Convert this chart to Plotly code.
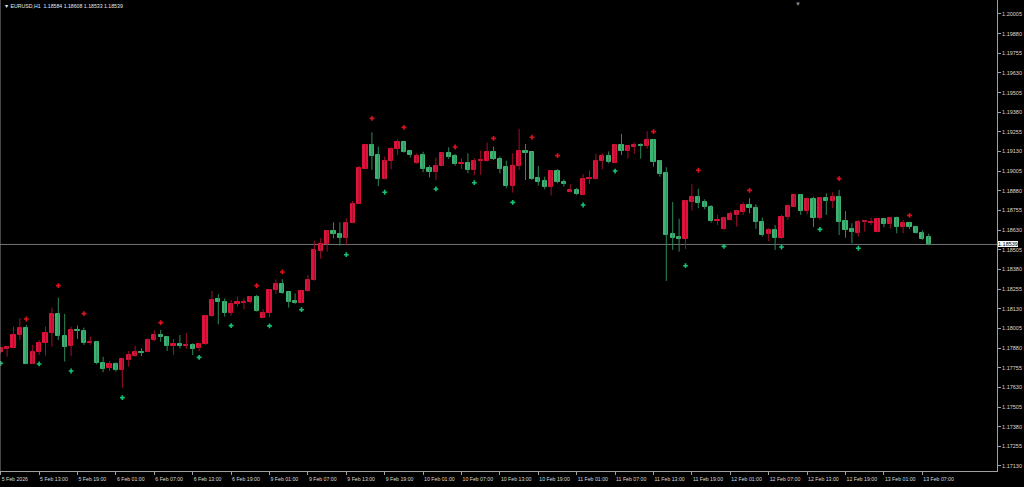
import plotly.graph_objects as go

symbol = "EURUSD,H1"

opens = [1.17853, 1.17876, 1.17881, 1.17961, 1.18008, 1.17781, 1.17855, 1.17912, 1.17976, 1.18097,
         1.17959, 1.17893, 1.17997, 1.17989, 1.17910, 1.17919, 1.17785, 1.17751, 1.17781, 1.17741,
         1.17806, 1.17830, 1.17857, 1.17855, 1.17931, 1.17963, 1.17948, 1.17891, 1.17906, 1.17895,
         1.17902, 1.17878, 1.17906, 1.18082, 1.18190, 1.18173, 1.18101, 1.18163, 1.18169, 1.18171,
         1.18203, 1.18074, 1.18101, 1.18250, 1.18288, 1.18235, 1.18177, 1.18169, 1.18243, 1.18313,
         1.18500, 1.18542, 1.18627, 1.18606, 1.18580, 1.18676, 1.18799, 1.19021, 1.19174, 1.19108,
         1.18956, 1.19072, 1.19144, 1.19189, 1.19135, 1.19055, 1.19108, 1.19025, 1.19002, 1.19040,
         1.19123, 1.19100, 1.19053, 1.19057, 1.19013, 1.19072, 1.19072, 1.19129, 1.19085, 1.19030,
         1.18911, 1.19038, 1.19134, 1.19127, 1.18962, 1.18943, 1.18905, 1.19009, 1.18939, 1.18875,
         1.18886, 1.18856, 1.18953, 1.18958, 1.19070, 1.19102, 1.19059, 1.19172, 1.19134, 1.19161,
         1.19174, 1.19163, 1.19204, 1.19068, 1.18992, 1.18606, 1.18587, 1.18572, 1.18809, 1.18841,
         1.18807, 1.18777, 1.18688, 1.18638, 1.18695, 1.18727, 1.18748, 1.18790, 1.18773, 1.18680,
         1.18606, 1.18631, 1.18582, 1.18712, 1.18780, 1.18854, 1.18754, 1.18830, 1.18710, 1.18837,
         1.18816, 1.18841, 1.18691, 1.18638, 1.18614, 1.18680, 1.18678, 1.18621, 1.18701, 1.18669,
         1.18707, 1.18652, 1.18676, 1.18652, 1.18614, 1.18584]
highs = [1.17887, 1.17891, 1.18016, 1.18069, 1.18027, 1.17900, 1.17931, 1.18016, 1.18137, 1.18201,
         1.18097, 1.18016, 1.18023, 1.18010, 1.17953, 1.17925, 1.17825, 1.17798, 1.17789, 1.17815,
         1.17861, 1.17895, 1.17878, 1.17942, 1.17993, 1.17995, 1.17957, 1.17938, 1.17963, 1.17976,
         1.17910, 1.17910, 1.18086, 1.18243, 1.18222, 1.18196, 1.18186, 1.18207, 1.18197, 1.18211,
         1.18218, 1.18127, 1.18254, 1.18317, 1.18317, 1.18239, 1.18228, 1.18250, 1.18345, 1.18563,
         1.18578, 1.18631, 1.18680, 1.18680, 1.18705, 1.18816, 1.19038, 1.19176, 1.19252, 1.19161,
         1.19098, 1.19157, 1.19208, 1.19193, 1.19136, 1.19119, 1.19129, 1.19042, 1.19091, 1.19127,
         1.19157, 1.19115, 1.19087, 1.19119, 1.19087, 1.19136, 1.19187, 1.19161, 1.19098, 1.19072,
         1.19119, 1.19274, 1.19178, 1.19129, 1.19038, 1.18970, 1.19009, 1.19017, 1.18953, 1.18922,
         1.18898, 1.18987, 1.19009, 1.19115, 1.19119, 1.19131, 1.19178, 1.19242, 1.19168, 1.19187,
         1.19182, 1.19259, 1.19208, 1.19076, 1.19030, 1.18809, 1.18703, 1.18822, 1.18922, 1.18894,
         1.18826, 1.18790, 1.18727, 1.18716, 1.18748, 1.18756, 1.18807, 1.18833, 1.18794, 1.18710,
         1.18642, 1.18663, 1.18727, 1.18794, 1.18858, 1.18858, 1.18837, 1.18843, 1.18839, 1.18864,
         1.18871, 1.18886, 1.18752, 1.18674, 1.18695, 1.18695, 1.18710, 1.18705, 1.18705, 1.18716,
         1.18716, 1.18695, 1.18684, 1.18659, 1.18629, 1.18608]
lows = [1.17845, 1.17825, 1.17878, 1.17931, 1.17777, 1.17779, 1.17836, 1.17832, 1.17889, 1.17931,
        1.17794, 1.17830, 1.17938, 1.17900, 1.17900, 1.17777, 1.17726, 1.17734, 1.17730, 1.17628,
        1.17762, 1.17825, 1.17830, 1.17853, 1.17925, 1.17921, 1.17861, 1.17836, 1.17878, 1.17874,
        1.17836, 1.17861, 1.17900, 1.18078, 1.18031, 1.18080, 1.18086, 1.18144, 1.18127, 1.18165,
        1.18112, 1.18069, 1.18076, 1.18224, 1.18224, 1.18137, 1.18161, 1.18165, 1.18239, 1.18309,
        1.18447, 1.18493, 1.18578, 1.18532, 1.18536, 1.18674, 1.18797, 1.19017, 1.19013, 1.18911,
        1.18953, 1.19017, 1.19108, 1.19123, 1.19091, 1.19051, 1.18998, 1.18966, 1.18949, 1.19038,
        1.19083, 1.19040, 1.19019, 1.18992, 1.18979, 1.18981, 1.19066, 1.19076, 1.18992, 1.18896,
        1.18869, 1.19013, 1.18949, 1.18949, 1.18913, 1.18890, 1.18850, 1.18928, 1.18907, 1.18869,
        1.18852, 1.18852, 1.18924, 1.18953, 1.19017, 1.19055, 1.19055, 1.19108, 1.19085, 1.19115,
        1.19085, 1.19148, 1.19034, 1.18970, 1.18307, 1.18504, 1.18493, 1.18510, 1.18754, 1.18769,
        1.18763, 1.18678, 1.18663, 1.18631, 1.18691, 1.18652, 1.18727, 1.18737, 1.18638, 1.18589,
        1.18561, 1.18504, 1.18574, 1.18695, 1.18775, 1.18727, 1.18731, 1.18650, 1.18695, 1.18727,
        1.18769, 1.18599, 1.18582, 1.18546, 1.18589, 1.18621, 1.18663, 1.18616, 1.18648, 1.18642,
        1.18610, 1.18610, 1.18638, 1.18608, 1.18568, 1.18533]
closes = [1.17881, 1.17887, 1.17965, 1.18010, 1.17781, 1.17855, 1.17914, 1.17976, 1.18099, 1.17957,
          1.17889, 1.17995, 1.17989, 1.17910, 1.17921, 1.17785, 1.17747, 1.17777, 1.17741, 1.17808,
          1.17836, 1.17855, 1.17849, 1.17931, 1.17963, 1.17948, 1.17891, 1.17904, 1.17895, 1.17900,
          1.17876, 1.17906, 1.18082, 1.18186, 1.18171, 1.18101, 1.18158, 1.18171, 1.18175, 1.18203,
          1.18118, 1.18101, 1.18250, 1.18288, 1.18233, 1.18173, 1.18165, 1.18243, 1.18313, 1.18504,
          1.18540, 1.18625, 1.18604, 1.18580, 1.18676, 1.18799, 1.19023, 1.19172, 1.19104, 1.18956,
          1.19072, 1.19146, 1.19189, 1.19129, 1.19108, 1.19102, 1.19021, 1.19002, 1.19040, 1.19123,
          1.19098, 1.19051, 1.19059, 1.19013, 1.19072, 1.19076, 1.19127, 1.19083, 1.19019, 1.18911,
          1.19040, 1.19134, 1.19121, 1.18958, 1.18939, 1.18903, 1.19006, 1.18934, 1.18926, 1.18883,
          1.18860, 1.18956, 1.18962, 1.19070, 1.19104, 1.19064, 1.19174, 1.19134, 1.19165, 1.19174,
          1.19163, 1.19204, 1.19064, 1.18985, 1.18599, 1.18582, 1.18572, 1.18816, 1.18841, 1.18803,
          1.18780, 1.18688, 1.18697, 1.18705, 1.18731, 1.18752, 1.18790, 1.18771, 1.18680, 1.18599,
          1.18631, 1.18582, 1.18716, 1.18784, 1.18854, 1.18752, 1.18830, 1.18710, 1.18837, 1.18816,
          1.18841, 1.18684, 1.18631, 1.18621, 1.18684, 1.18686, 1.18684, 1.18699, 1.18669, 1.18707,
          1.18652, 1.18676, 1.18650, 1.18614, 1.18574, 1.18539]

tick_idx = [0, 6, 12, 18, 24, 30, 36, 42, 48, 54, 60, 66, 72, 78, 84, 90, 96, 102, 108, 114,
            120, 126, 132, 138, 144]
tick_labels = ["5 Feb 2026", "5 Feb 13:00", "5 Feb 19:00", "6 Feb 01:00", "6 Feb 07:00",
               "6 Feb 13:00", "6 Feb 19:00", "9 Feb 01:00", "9 Feb 07:00", "9 Feb 13:00",
               "9 Feb 19:00", "10 Feb 01:00", "10 Feb 07:00", "10 Feb 13:00", "10 Feb 19:00",
               "11 Feb 01:00", "11 Feb 07:00", "11 Feb 13:00", "11 Feb 19:00", "12 Feb 01:00",
               "12 Feb 07:00", "12 Feb 13:00", "12 Feb 19:00", "13 Feb 01:00", "13 Feb 07:00"]

price_ticks = [1.17130, 1.17255, 1.17380, 1.17505, 1.17630, 1.17755, 1.17880, 1.18005,
               1.18130, 1.18255, 1.18380, 1.18505, 1.18630, 1.18755, 1.18880, 1.19005,
               1.19130, 1.19255, 1.19380, 1.19505, 1.19630, 1.19755, 1.19880, 1.20005]

frac_up_idx = [4, 9, 13, 25, 40, 44, 58, 63, 71, 77, 83, 87, 102, 109, 117, 131, 142]
frac_up_price = [1.18065, 1.18277, 1.18099, 1.18042, 1.18277, 1.18364, 1.19341, 1.19284, 1.19159,
                 1.19214, 1.19221, 1.19104, 1.19257, 1.19011, 1.18883, 1.18958, 1.18724]
frac_dn_idx = [0, 6, 11, 19, 31, 36, 42, 47, 54, 60, 68, 74, 80, 91, 96, 107, 113, 122, 128, 134]
frac_dn_price = [1.17783, 1.17779, 1.17734, 1.17565, 1.17821, 1.18023, 1.18021, 1.18124, 1.18474,
                 1.18871, 1.18892, 1.18932, 1.18807, 1.18790, 1.19006, 1.18404, 1.18527, 1.18523,
                 1.18635, 1.18515]

BULL_BODY = "#DC143C"
BEAR_BODY = "#3CB371"
BULL_WICK = "#A0102A"
BEAR_WICK = "#2E8A58"
FONT = "Liberation Sans"
TXT = "#D8D8D8"
AXIS = "#A0A0A0"

n = len(opens)
xs = list(range(n))
is_bull = [c > o for o, c in zip(opens, closes)]

wx_b, wy_b, wx_r, wy_r = [], [], [], []
for i in xs:
    if is_bull[i]:
        wx_b += [i, i, None]
        wy_b += [lows[i], highs[i], None]
    else:
        wx_r += [i, i, None]
        wy_r += [lows[i], highs[i], None]

body_base = [min(o, c) for o, c in zip(opens, closes)]
body_h = [abs(c - o) for o, c in zip(opens, closes)]
body_col = [BULL_BODY if b else BEAR_BODY for b in is_bull]

fig = go.Figure()
fig.add_trace(go.Scatter(x=wx_b, y=wy_b, mode="lines", line=dict(color=BULL_WICK, width=1),
                         hoverinfo="skip", showlegend=False))
fig.add_trace(go.Scatter(x=wx_r, y=wy_r, mode="lines", line=dict(color=BEAR_WICK, width=1),
                         hoverinfo="skip", showlegend=False))
fig.add_trace(go.Bar(x=xs, y=body_h, base=body_base, width=0.64,
                     marker=dict(color=body_col, line=dict(color=body_col, width=1)),
                     showlegend=False, hoverinfo="skip"))
fig.add_trace(go.Scatter(x=frac_up_idx, y=frac_up_price, mode="markers",
                         marker=dict(symbol="cross", size=4, color="#E0101E", line=dict(width=0)),
                         showlegend=False, hoverinfo="skip"))
fig.add_trace(go.Scatter(x=frac_dn_idx, y=frac_dn_price, mode="markers",
                         marker=dict(symbol="cross", size=4, color="#12C474", line=dict(width=0)),
                         showlegend=False, hoverinfo="skip"))

last_close = closes[-1]
fig.add_shape(type="line", xref="paper", x0=0, x1=1, yref="y", y0=last_close, y1=last_close,
              line=dict(color="#707478", width=1), layer="below")
fig.add_shape(type="line", xref="paper", x0=0, x1=0, yref="paper", y0=0, y1=1,
              line=dict(color="#8A8A8A", width=1))

fig.add_annotation(xref="paper", yref="y", x=1.0, y=last_close, xanchor="left", yanchor="middle",
                   text=f"{last_close:.5f}", showarrow=False, xshift=1,
                   font=dict(family=FONT, size=5.5, color="#000000"),
                   bgcolor="#FFFFFF", bordercolor="#A0A0A0", borderwidth=0, borderpad=0)

header = (f"{symbol}  {opens[-1]:.5f} {highs[-1]:.5f} {lows[-1]:.5f} {closes[-1]:.5f}")
fig.add_annotation(xref="paper", yref="paper", x=0, y=1, xanchor="left", yanchor="top",
                   text="▼ " + header, showarrow=False, xshift=2, yshift=-1,
                   font=dict(family=FONT, size=5.2, color="#E8E8E8"))
fig.add_annotation(xref="paper", yref="paper", x=0.8004, y=1, xanchor="center", yanchor="top",
                   text="▼", showarrow=False, yshift=1,
                   font=dict(family=FONT, size=6, color="#8A8A8A"))

fig.update_layout(
    width=1024, height=487,
    margin=dict(l=0, r=27, t=0, b=16, autoexpand=False),
    paper_bgcolor="#000000", plot_bgcolor="#000000",
    bargap=0, barmode="overlay",
    font=dict(family=FONT, color=TXT, size=5.5),
    showlegend=False,
)
fig.update_xaxes(
    range=[-0.11, 155.67], showgrid=False, zeroline=False, automargin=False,
    tickmode="array", tickvals=tick_idx, ticktext=tick_labels, tickangle=0,
    ticks="outside", ticklen=3, tickcolor=AXIS, tickwidth=1,
    ticklabelposition="outside right", ticklabelstandoff=3,
    showline=True, linecolor=AXIS, linewidth=1,
    tickfont=dict(family=FONT, size=5.2, color=TXT),
)
fig.update_yaxes(
    side="right", range=[1.17098, 1.20094], showgrid=False, zeroline=False, automargin=False,
    tickmode="array", tickvals=price_ticks, tickformat=".5f",
    ticks="outside", ticklen=3, tickcolor=AXIS, tickwidth=1,
    showline=True, linecolor=AXIS, linewidth=1,
    tickfont=dict(family=FONT, size=5.5, color=TXT),
)

fig.write_html(
    "out.html",
    config={"displayModeBar": False},
    post_script="document.body.style.margin='0';document.body.style.background='#000';",
)
